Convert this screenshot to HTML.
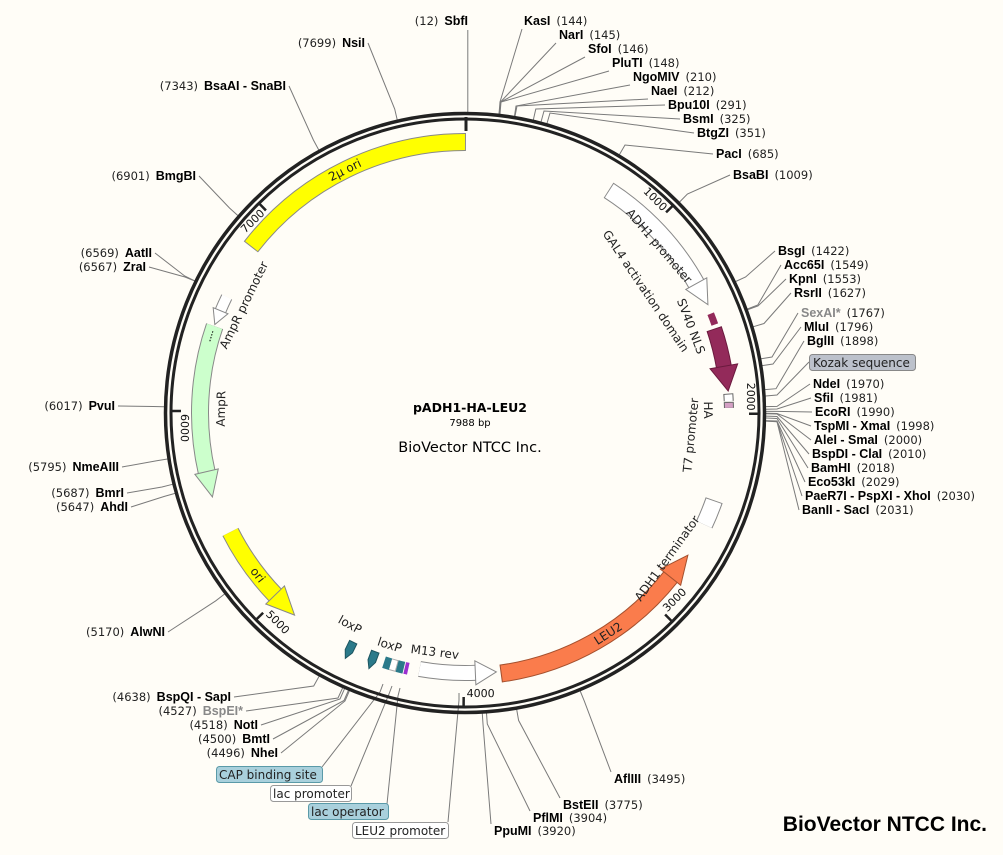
<!DOCTYPE html>
<html><head><meta charset="utf-8"><style>
html,body{margin:0;padding:0;background:#fffdf7;}
svg{display:block;}
.b{font-family:"Liberation Sans",sans-serif;font-weight:bold;font-size:12.5px;fill:#000;}
.n{font-family:"DejaVu Sans",sans-serif;font-size:11.5px;fill:#222;}
.g{fill:#888;}
.f{font-family:"DejaVu Sans",sans-serif;font-size:12px;fill:#222;}
.t{font-family:"DejaVu Sans",sans-serif;font-size:11px;fill:#111;}
.ln path{fill:none;stroke:#7a7a7a;stroke-width:1;}
</style></head><body>
<svg width="1003" height="855" viewBox="0 0 1003 855" xmlns="http://www.w3.org/2000/svg">
<rect width="1003" height="855" fill="#fffdf7"/>

<g class="ln">
<path d="M467.8,112 L467.8,30"/>
<path d="M499,114 L500,102 L522,29"/>
<path d="M499.2,114 L500.5,102 L556,43"/>
<path d="M499.5,114 L500.7,102 L585,57"/>
<path d="M500,114 L501,102 L609,71"/>
<path d="M514.5,116 L516,106 L630,85"/>
<path d="M515,116.2 L517,106 L648,99"/>
<path d="M533.3,120 L535.8,109 L665,105"/>
<path d="M541,122 L544,111 L680,119"/>
<path d="M547,123.4 L550,113 L694,133"/>
<path d="M619.4,154.6 L625,145 L713,154"/>
<path d="M679.6,202 L687.4,194 L730,175"/>
<path d="M735.7,281.5 L745.6,277 L775,251"/>
<path d="M747.5,309 L757.8,305 L781,265"/>
<path d="M747.8,309.6 L758,306 L786,279"/>
<path d="M753.4,326.7 L764,323.5 L791,293"/>
<path d="M761,358.8 L772,357 L798,313"/>
<path d="M762.2,365.6 L773,364 L801,327"/>
<path d="M765,389.6 L776,388.7 L804,341"/>
<path d="M765.6,396 L777,395 L809,362"/>
<path d="M766,406.6 L777,406.4 L810,384"/>
<path d="M766,409.2 L777,409 L811,398"/>
<path d="M766,411.4 L777,411.4 L812,412"/>
<path d="M766,413.3 L777,413.5 L811,426"/>
<path d="M766,413.7 L777,414 L811,440"/>
<path d="M766,416.1 L777,416.5 L809,454"/>
<path d="M766,418 L777,418.5 L808,468"/>
<path d="M765.9,420.6 L777,421 L805,482"/>
<path d="M765.9,421 L777,421.5 L802,496"/>
<path d="M765.9,421.1 L777,421.7 L799,510"/>
<path d="M580.2,691 L584.4,701.3 L611,772"/>
<path d="M516.7,709.5 L518.6,720.4 L560,798"/>
<path d="M486.5,713.2 L487.3,724 L530,811"/>
<path d="M482.3,713.5 L483,724 L491,824"/>
<path d="M397.2,119.7 L394.7,109 L368,43"/>
<path d="M318.8,150 L313.4,140 L289,86"/>
<path d="M237.8,215.5 L229.5,208 L199,176"/>
<path d="M194.6,280.8 L184.7,276 L155,253"/>
<path d="M194.8,281 L185,277 L149,267"/>
<path d="M164.1,406.7 L153,406.5 L118,406"/>
<path d="M167.5,459 L156.7,460.7 L122,467"/>
<path d="M172.5,484.3 L162,487 L127,493"/>
<path d="M175,493.4 L164.4,496.4 L131,507"/>
<path d="M224.6,594 L215.8,600.8 L168,632"/>
<path d="M319.1,676.3 L313.7,686 L234,697"/>
<path d="M342.6,688 L338,698 L246,711"/>
<path d="M344.5,688.8 L340,699 L261,725"/>
<path d="M348.4,690.5 L344,700.5 L273,739"/>
<path d="M349.3,691 L345,701 L281,753"/>
<path d="M383,684 L380,692 L322,767"/>
<path d="M392,686 L389,694 L351,786"/>
<path d="M400,688 L398,696 L387,804"/>
<path d="M459,693 L459,700 L448,822"/>
</g>

<circle cx="465" cy="413" r="299.5" fill="none" stroke="#222" stroke-width="3.5"/>
<circle cx="465" cy="413" r="294" fill="none" stroke="#222" stroke-width="3"/>
<line x1="466" y1="117" x2="466" y2="131" stroke="#222" stroke-width="3"/>

<g stroke="#222" stroke-width="2.5">
<line x1="465" y1="119" x2="465" y2="129" transform="rotate(45.07 465 413)"/>
<line x1="465" y1="119" x2="465" y2="129" transform="rotate(90.14 465 413)"/>
<line x1="465" y1="119" x2="465" y2="129" transform="rotate(135.2 465 413)"/>
<line x1="465" y1="119" x2="465" y2="129" transform="rotate(180.27 465 413)"/>
<line x1="465" y1="119" x2="465" y2="129" transform="rotate(225.3 465 413)"/>
<line x1="465" y1="119" x2="465" y2="129" transform="rotate(270.4 465 413)"/>
<line x1="465" y1="119" x2="465" y2="129" transform="rotate(315.5 465 413)"/>
</g>
<g class="t">
<text x="462" y="131" text-anchor="end" transform="rotate(45.07 465 413)">1000</text>
<text x="462" y="131" text-anchor="end" transform="rotate(90.14 465 413)">2000</text>
<text x="462" y="131" text-anchor="end" transform="rotate(315.5 465 413)">7000</text>
<text x="468" y="697" transform="rotate(-44.8 465 413)">3000</text>
<text x="468" y="697" transform="rotate(0.27 465 413)">4000</text>
<text x="468" y="697" transform="rotate(45.3 465 413)">5000</text>
<text x="468" y="697" transform="rotate(90.4 465 413)">6000</text>
</g>

<circle cx="465" cy="413" r="271" fill="none" stroke="#888" stroke-width="18" stroke-dasharray="247.8 2000" transform="rotate(217.8 465 413)"/>
<circle cx="465" cy="413" r="271" fill="none" stroke="#ffff00" stroke-width="16" stroke-dasharray="245.9 2000" transform="rotate(218 465 413)"/>
<circle cx="465" cy="413" r="265" fill="none" stroke="#888" stroke-width="18" stroke-dasharray="130.4 2000" transform="rotate(-57.2 465 413)"/>
<circle cx="465" cy="413" r="265" fill="none" stroke="#fff" stroke-width="16" stroke-dasharray="130.4 2000" transform="rotate(-57 465 413)"/>
<polygon points="464,136 488,148 464,160" fill="#fff" stroke="#888" transform="rotate(61 465 413)"/>
<circle cx="465" cy="413" r="265" fill="none" stroke="#932a5a" stroke-width="7" stroke-dasharray="11.6 2000" transform="rotate(-22 465 413)"/>
<circle cx="465" cy="413" r="263" fill="none" stroke="#6b1a3e" stroke-width="16" stroke-dasharray="40 2000" transform="rotate(-18.7 465 413)"/>
<circle cx="465" cy="413" r="263" fill="none" stroke="#932a5a" stroke-width="14" stroke-dasharray="39.5 2000" transform="rotate(-18.5 465 413)"/>
<polygon points="464,136 489,150 464,164" fill="#932a5a" stroke="#6b1a3e" transform="rotate(80 465 413)"/>
<circle cx="465" cy="413" r="264" fill="none" stroke="#666" stroke-width="10" stroke-dasharray="7.5 2000" transform="rotate(-4.2 465 413)"/>
<circle cx="465" cy="413" r="264" fill="none" stroke="#fff" stroke-width="8" stroke-dasharray="6.5 2000" transform="rotate(-4 465 413)"/>
<circle cx="465" cy="413" r="264" fill="none" stroke="#666" stroke-width="10" stroke-dasharray="6 2000" transform="rotate(-2.4 465 413)"/>
<circle cx="465" cy="413" r="264" fill="none" stroke="#d4a0c4" stroke-width="8" stroke-dasharray="5 2000" transform="rotate(-2.2 465 413)"/>
<circle cx="465" cy="413" r="264" fill="none" stroke="#888" stroke-width="18" stroke-dasharray="26.3 2000" transform="rotate(19.3 465 413)"/>
<circle cx="465" cy="413" r="264" fill="none" stroke="#fff" stroke-width="16" stroke-dasharray="25.3 2000" transform="rotate(19.5 465 413)"/>
<circle cx="465" cy="413" r="263" fill="none" stroke="#a4502e" stroke-width="18" stroke-dasharray="201.5 2000" transform="rotate(38.3 465 413)"/>
<circle cx="465" cy="413" r="263" fill="none" stroke="#fa7c4c" stroke-width="16" stroke-dasharray="200 2000" transform="rotate(38.4 465 413)"/>
<polygon points="466,137 438,150 466,163" fill="#fa7c4c" stroke="#a4502e" transform="rotate(128.4 465 413)"/>
<circle cx="465" cy="413" r="260" fill="none" stroke="#888" stroke-width="16" stroke-dasharray="57.5 2000" transform="rotate(87.4 465 413)"/>
<circle cx="465" cy="413" r="260" fill="none" stroke="#fff" stroke-width="14" stroke-dasharray="57 2000" transform="rotate(87.5 465 413)"/>
<polygon points="466,141 445,153 466,165" fill="#fff" stroke="#888" transform="rotate(177.5 465 413)"/>
<circle cx="465" cy="413" r="262" fill="none" stroke="#2b7a8a" stroke-width="12" stroke-dasharray="6.9 2000" transform="rotate(106.5 465 413)"/>
<circle cx="465" cy="413" r="262" fill="none" stroke="#aaa" stroke-width="12" transform="rotate(105 465 413)" style="stroke-dasharray:6.9 2000"/>
<circle cx="465" cy="413" r="262" fill="none" stroke="#fff" stroke-width="10" stroke-dasharray="5.9 2000" transform="rotate(105.2 465 413)"/>
<circle cx="465" cy="413" r="262" fill="none" stroke="#2b7a8a" stroke-width="12" stroke-dasharray="6.9 2000" transform="rotate(103.5 465 413)"/>
<circle cx="465" cy="413" r="262" fill="none" stroke="#9b30d0" stroke-width="12" stroke-dasharray="3.7 2000" transform="rotate(102.5 465 413)"/>
<polygon points="461,158 469,158 469,148 465,140 461,148" fill="#2b7a8a" stroke="#1d5560" transform="rotate(206 465 413)"/>
<polygon points="461,158 469,158 469,148 465,140 461,148" fill="#2b7a8a" stroke="#1d5560" transform="rotate(200.6 465 413)"/>
<circle cx="465" cy="413" r="263" fill="none" stroke="#888" stroke-width="18" stroke-dasharray="79 2000" transform="rotate(135.9 465 413)"/>
<circle cx="465" cy="413" r="263" fill="none" stroke="#ffff00" stroke-width="16" stroke-dasharray="78.5 2000" transform="rotate(136 465 413)"/>
<polygon points="466,137 438,150 466,163" fill="#ffff00" stroke="#888" transform="rotate(226 465 413)"/>
<circle cx="465" cy="413" r="265" fill="none" stroke="#888" stroke-width="18" stroke-dasharray="149 2000" transform="rotate(166.9 465 413)"/>
<circle cx="465" cy="413" r="265" fill="none" stroke="#ccffcc" stroke-width="16" stroke-dasharray="148.5 2000" transform="rotate(167 465 413)"/>
<polygon points="466,136 440,148 466,160" fill="#ccffcc" stroke="#888" transform="rotate(257 465 413)"/>
<line x1="459" y1="148" x2="471" y2="148" stroke="#000" stroke-dasharray="1.5 1.5" transform="rotate(287 465 413)"/>
<circle cx="465" cy="413" r="265" fill="none" stroke="#888" stroke-width="12" stroke-dasharray="16.5 2000" transform="rotate(202.4 465 413)"/>
<circle cx="465" cy="413" r="265" fill="none" stroke="#fff" stroke-width="10" stroke-dasharray="16.2 2000" transform="rotate(202.5 465 413)"/>
<polygon points="466,140 451,148 466,156" fill="#fff" stroke="#888" transform="rotate(292.5 465 413)"/>

<g class="f">
<text x="465" y="146" text-anchor="middle" transform="rotate(333.7 465 413)">2µ ori</text>
<text x="465" y="161" text-anchor="middle" transform="rotate(49.3 465 413)">ADH1 promoter</text>
<text x="465" y="199" text-anchor="middle" transform="rotate(56 465 413)">GAL4 activation domain</text>
<text x="465" y="175" text-anchor="middle" transform="rotate(69 465 413)">SV40 NLS</text>
<text x="465" y="174" text-anchor="middle" transform="rotate(89.3 465 413)">HA</text>
<text x="465" y="644" text-anchor="middle" transform="rotate(-84.4 465 413)">T7 promoter</text>
<text x="465" y="666" text-anchor="middle" transform="rotate(-54.3 465 413)">ADH1 terminator</text>
<text x="465" y="680" text-anchor="middle" transform="rotate(-33 465 413)">LEU2</text>
<text x="465" y="680" text-anchor="middle" transform="rotate(52 465 413)">ori</text>
<text x="465" y="173" text-anchor="middle" transform="rotate(271 465 413)">AmpR</text>
<text x="465" y="171" text-anchor="middle" transform="rotate(296 465 413)">AmpR promoter</text>
<text x="465" y="658" text-anchor="middle" transform="rotate(28.5 465 413)">loxP</text>
<text x="465" y="661" text-anchor="middle" transform="rotate(18 465 413)">loxP</text>
<text x="465" y="658" text-anchor="middle" transform="rotate(7.2 465 413)">M13 rev</text>
</g>

<text x="524" y="25"><tspan class="b">KasI</tspan><tspan class="n" dx="6">(144)</tspan></text>
<text x="559" y="39"><tspan class="b">NarI</tspan><tspan class="n" dx="6">(145)</tspan></text>
<text x="588" y="53"><tspan class="b">SfoI</tspan><tspan class="n" dx="6">(146)</tspan></text>
<text x="612" y="67"><tspan class="b">PluTI</tspan><tspan class="n" dx="6">(148)</tspan></text>
<text x="633" y="81"><tspan class="b">NgoMIV</tspan><tspan class="n" dx="6">(210)</tspan></text>
<text x="651" y="95"><tspan class="b">NaeI</tspan><tspan class="n" dx="6">(212)</tspan></text>
<text x="668" y="109"><tspan class="b">Bpu10I</tspan><tspan class="n" dx="6">(291)</tspan></text>
<text x="683" y="123"><tspan class="b">BsmI</tspan><tspan class="n" dx="6">(325)</tspan></text>
<text x="697" y="137"><tspan class="b">BtgZI</tspan><tspan class="n" dx="6">(351)</tspan></text>
<text x="716" y="158"><tspan class="b">PacI</tspan><tspan class="n" dx="6">(685)</tspan></text>
<text x="733" y="179"><tspan class="b">BsaBI</tspan><tspan class="n" dx="6">(1009)</tspan></text>
<text x="778" y="255"><tspan class="b">BsgI</tspan><tspan class="n" dx="6">(1422)</tspan></text>
<text x="784" y="269"><tspan class="b">Acc65I</tspan><tspan class="n" dx="6">(1549)</tspan></text>
<text x="789" y="283"><tspan class="b">KpnI</tspan><tspan class="n" dx="6">(1553)</tspan></text>
<text x="794" y="297"><tspan class="b">RsrII</tspan><tspan class="n" dx="6">(1627)</tspan></text>
<text x="801" y="317"><tspan class="b g">SexAI*</tspan><tspan class="n" dx="6">(1767)</tspan></text>
<text x="804" y="331"><tspan class="b">MluI</tspan><tspan class="n" dx="6">(1796)</tspan></text>
<text x="807" y="345"><tspan class="b">BglII</tspan><tspan class="n" dx="6">(1898)</tspan></text>
<rect x="809.5" y="354.5" width="106" height="16" rx="3" fill="#bcc1cb" stroke="#888"/>
<text x="813" y="367" class="f">Kozak sequence</text>
<text x="813" y="388"><tspan class="b">NdeI</tspan><tspan class="n" dx="6">(1970)</tspan></text>
<text x="814" y="402"><tspan class="b">SfiI</tspan><tspan class="n" dx="6">(1981)</tspan></text>
<text x="815" y="416"><tspan class="b">EcoRI</tspan><tspan class="n" dx="6">(1990)</tspan></text>
<text x="814" y="430"><tspan class="b">TspMI - XmaI</tspan><tspan class="n" dx="6">(1998)</tspan></text>
<text x="814" y="444"><tspan class="b">AleI - SmaI</tspan><tspan class="n" dx="6">(2000)</tspan></text>
<text x="812" y="458"><tspan class="b">BspDI - ClaI</tspan><tspan class="n" dx="6">(2010)</tspan></text>
<text x="811" y="472"><tspan class="b">BamHI</tspan><tspan class="n" dx="6">(2018)</tspan></text>
<text x="808" y="486"><tspan class="b">Eco53kI</tspan><tspan class="n" dx="6">(2029)</tspan></text>
<text x="805" y="500"><tspan class="b">PaeR7I - PspXI - XhoI</tspan><tspan class="n" dx="6">(2030)</tspan></text>
<text x="802" y="514"><tspan class="b">BanII - SacI</tspan><tspan class="n" dx="6">(2031)</tspan></text>
<text x="614" y="783"><tspan class="b">AflIII</tspan><tspan class="n" dx="6">(3495)</tspan></text>
<text x="563" y="809"><tspan class="b">BstEII</tspan><tspan class="n" dx="6">(3775)</tspan></text>
<text x="533" y="822"><tspan class="b">PflMI</tspan><tspan class="n" dx="6">(3904)</tspan></text>
<text x="494" y="835"><tspan class="b">PpuMI</tspan><tspan class="n" dx="6">(3920)</tspan></text>

<text x="468" y="25" text-anchor="end"><tspan class="n">(12)</tspan><tspan class="b" dx="6">SbfI</tspan></text>
<text x="365" y="47" text-anchor="end"><tspan class="n">(7699)</tspan><tspan class="b" dx="6">NsiI</tspan></text>
<text x="286" y="90" text-anchor="end"><tspan class="n">(7343)</tspan><tspan class="b" dx="6">BsaAI - SnaBI</tspan></text>
<text x="196" y="180" text-anchor="end"><tspan class="n">(6901)</tspan><tspan class="b" dx="6">BmgBI</tspan></text>
<text x="152" y="257" text-anchor="end"><tspan class="n">(6569)</tspan><tspan class="b" dx="6">AatII</tspan></text>
<text x="146" y="271" text-anchor="end"><tspan class="n">(6567)</tspan><tspan class="b" dx="6">ZraI</tspan></text>
<text x="115" y="410" text-anchor="end"><tspan class="n">(6017)</tspan><tspan class="b" dx="6">PvuI</tspan></text>
<text x="119" y="471" text-anchor="end"><tspan class="n">(5795)</tspan><tspan class="b" dx="6">NmeAIII</tspan></text>
<text x="124" y="497" text-anchor="end"><tspan class="n">(5687)</tspan><tspan class="b" dx="6">BmrI</tspan></text>
<text x="128" y="511" text-anchor="end"><tspan class="n">(5647)</tspan><tspan class="b" dx="6">AhdI</tspan></text>
<text x="165" y="636" text-anchor="end"><tspan class="n">(5170)</tspan><tspan class="b" dx="6">AlwNI</tspan></text>
<text x="231" y="701" text-anchor="end"><tspan class="n">(4638)</tspan><tspan class="b" dx="6">BspQI - SapI</tspan></text>
<text x="243" y="715" text-anchor="end"><tspan class="n">(4527)</tspan><tspan class="b g" dx="6">BspEI*</tspan></text>
<text x="258" y="729" text-anchor="end"><tspan class="n">(4518)</tspan><tspan class="b" dx="6">NotI</tspan></text>
<text x="270" y="743" text-anchor="end"><tspan class="n">(4500)</tspan><tspan class="b" dx="6">BmtI</tspan></text>
<text x="278" y="757" text-anchor="end"><tspan class="n">(4496)</tspan><tspan class="b" dx="6">NheI</tspan></text>

<rect x="216.5" y="766.5" width="106" height="16" rx="3" fill="#a9d0dc" stroke="#5a9aa8"/>
<text x="219" y="779" class="f">CAP binding site</text>
<rect x="270.5" y="785.5" width="81" height="16" rx="3" fill="#fff" stroke="#999"/>
<text x="273" y="798" class="f">lac promoter</text>
<rect x="308.5" y="803.5" width="80" height="16" rx="3" fill="#a9d0dc" stroke="#5a9aa8"/>
<text x="311" y="816" class="f">lac operator</text>
<rect x="352.5" y="822.5" width="96" height="16" rx="3" fill="#fff" stroke="#999"/>
<text x="355" y="835" class="f">LEU2 promoter</text>

<text x="470" y="412" text-anchor="middle" style="font-family:'DejaVu Sans',sans-serif;font-weight:bold;font-size:12.5px">pADH1-HA-LEU2</text>
<text x="470" y="426" text-anchor="middle" style="font-family:'DejaVu Sans',sans-serif;font-size:10px">7988 bp</text>
<text x="470" y="452" text-anchor="middle" style="font-family:'DejaVu Sans',sans-serif;font-size:14.5px">BioVector NTCC Inc.</text>

<text x="987" y="831" text-anchor="end" style="font-family:'Liberation Sans',sans-serif;font-weight:bold;font-size:21px;fill:#000">BioVector NTCC Inc.</text>
</svg>
</body></html>
